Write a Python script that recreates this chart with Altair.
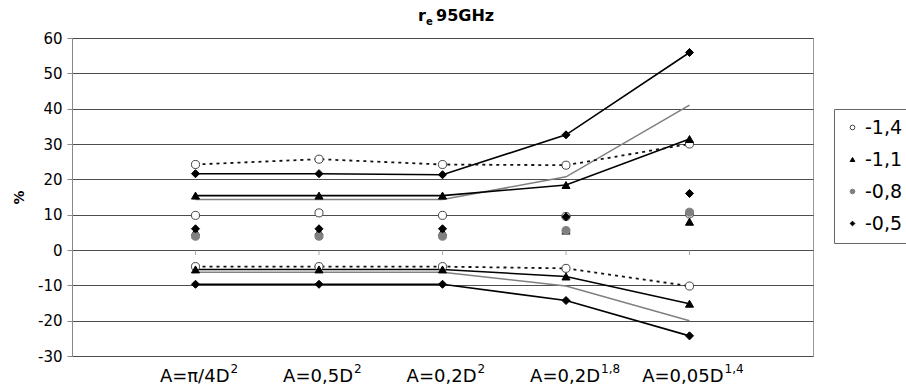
import altair as alt
import pandas as pd

# ---------------- data ----------------
positions = [1, 2, 3, 4, 5]
label_base = ["A=π/4D", "A=0,5D", "A=0,2D", "A=0,2D", "A=0,05D"]
label_sup = ["2", "2", "2", "1,8", "1,4"]

series_names = ["-1,4", "-1,1", "-0,8", "-0,5"]

upper_14 = [24.2, 25.7, 24.2, 24.0, 30.0]
mid_14 = [9.8, 10.5, 9.8, 9.5, 10.2]
lower_14 = [-4.7, -4.7, -4.7, -5.2, -10.2]

upper_11 = [15.4, 15.4, 15.4, 18.4, 31.4]
mid_11 = [5.2, 5.2, 5.2, 5.5, 8.0]
lower_11 = [-5.5, -5.5, -5.5, -7.5, -15.2]

upper_08 = [14.3, 14.3, 14.3, 20.7, 41.0]
mid_08 = [3.9, 3.9, 3.9, 5.5, 10.7]
lower_08 = [-6.3, -6.3, -6.3, -10.2, -20.0]

upper_05 = [21.6, 21.6, 21.3, 32.6, 55.9]
mid_05 = [6.0, 6.0, 6.0, 9.4, 16.0]
lower_05 = [-9.7, -9.7, -9.7, -14.3, -24.3]

y_ticks = [-30, -20, -10, 0, 10, 20, 30, 40, 50, 60]

title_sym = "r"
title_sub = "e"
title_rest = "95GHz"
y_title = "%"

series_data = {
    "-1,4": {"upper": upper_14, "mid": mid_14, "lower": lower_14},
    "-1,1": {"upper": upper_11, "mid": mid_11, "lower": lower_11},
    "-0,8": {"upper": upper_08, "mid": mid_08, "lower": lower_08},
    "-0,5": {"upper": upper_05, "mid": mid_05, "lower": lower_05},
}

rows = []
for s in series_names:
    for band, vals in series_data[s].items():
        for p, v in zip(positions, vals):
            rows.append({"pos": p, "val": v, "series": s, "band": band})
df = pd.DataFrame(rows)

labels_df = pd.DataFrame({"pos": positions, "base": label_base, "sup": label_sup})

FONT = "DejaVu Sans"
W, H = 741, 318

y_scale = alt.Scale(domain=[-30, 60], nice=False, zero=False)
x_enc = alt.X("pos:Q", scale=alt.Scale(domain=[0, 6], nice=False, zero=False), axis=None)
y_axis = alt.Axis(
    values=y_ticks, title=y_title, grid=True, gridColor="#4d4d4d",
    gridWidth=1, domainColor="#888888", tickColor="#888888", tickSize=5,
    labelFont=FONT, labelFontSize=15, labelColor="black", labelPadding=5,
    labelOverlap=False, labelExpr="'' + datum.value",
    titleFont=FONT, titleFontSize=14, titleFontWeight="bold", titleColor="black",
    titlePadding=11,
)
y_enc = alt.Y("val:Q", scale=y_scale, axis=y_axis)

base = alt.Chart(df)


def line_layer(series, color, dash=None, width=1.6):
    kw = dict(color=color, strokeWidth=width)
    if dash:
        kw["strokeDash"] = dash
    return base.transform_filter(
        (alt.datum.series == series) & (alt.datum.band != "mid")
    ).mark_line(**kw).encode(x=x_enc, y=y_enc, detail="band:N")


lines = [
    line_layer("-0,8", "#808080"),
    line_layer("-1,1", "#000000"),
    line_layer("-0,5", "#000000"),
    line_layer("-1,4", "#111111", dash=[3, 4], width=1.8),
]

leg = alt.Legend(
    orient="none", legendX=762, legendY=71, title=None,
    labelFont=FONT, labelFontSize=19, labelColor="black", labelOffset=3,
    symbolSize=22, symbolStrokeWidth=1, padding=9, rowPadding=12,
    strokeColor="#666666", fillColor="white", cornerRadius=0, labelLimit=300,
)

points = base.transform_filter(
    (alt.datum.series != "-0,8") | (alt.datum.band == "mid")
).mark_point(size=65, opacity=1, strokeWidth=1, filled=False).encode(
    x=x_enc,
    y=y_enc,
    shape=alt.Shape("series:N", scale=alt.Scale(domain=series_names,
                    range=["circle", "triangle-up", "circle", "diamond"]), legend=leg),
    fill=alt.Fill("series:N", scale=alt.Scale(domain=series_names,
                  range=["white", "black", "#808080", "black"]), legend=leg),
    stroke=alt.Stroke("series:N", scale=alt.Scale(domain=series_names,
                      range=["#444444", "black", "#808080", "black"]), legend=leg),
)

ticks = alt.Chart(labels_df).mark_tick(
    orient="vertical", size=5, thickness=1, color="#888888", yOffset=2.5
).encode(x=x_enc, y=alt.YDatum(0, scale=y_scale, axis=y_axis))

lab_base = alt.Chart(labels_df).mark_text(
    align="right", baseline="alphabetic", font=FONT, fontSize=18, dx=34, color="black"
).encode(x=x_enc, y=alt.value(344), text="base:N")

lab_sup = alt.Chart(labels_df).mark_text(
    align="left", baseline="alphabetic", font=FONT, fontSize=12, dx=35, color="black"
).encode(x=x_enc, y=alt.value(335), text="sup:N")

tdf = pd.DataFrame({"a": [title_sym], "b": [title_sub], "c": [title_rest]})
t1 = alt.Chart(tdf).mark_text(align="left", baseline="alphabetic", font=FONT,
                              fontSize=16, fontWeight="bold", color="black").encode(
    x=alt.value(346), y=alt.value(-17), text="a:N")
t2 = alt.Chart(tdf).mark_text(align="left", baseline="alphabetic", font=FONT,
                              fontSize=10, fontWeight="bold", color="black").encode(
    x=alt.value(354), y=alt.value(-13), text="b:N")
t3 = alt.Chart(tdf).mark_text(align="left", baseline="alphabetic", font=FONT,
                              fontSize=16, fontWeight="bold", color="black").encode(
    x=alt.value(364), y=alt.value(-17), text="c:N")

chart = alt.layer(
    *lines, points, ticks, lab_base, lab_sup, t1, t2, t3
).properties(
    width=W, height=H,
    padding={"left": 72, "top": 38, "right": 93, "bottom": 34},
    autosize=alt.AutoSizeParams(type="none"),
    background="white",
).configure_view(stroke="#999999", strokeWidth=1)

chart.save("out.html", embed_options={"renderer": "svg", "actions": False})
